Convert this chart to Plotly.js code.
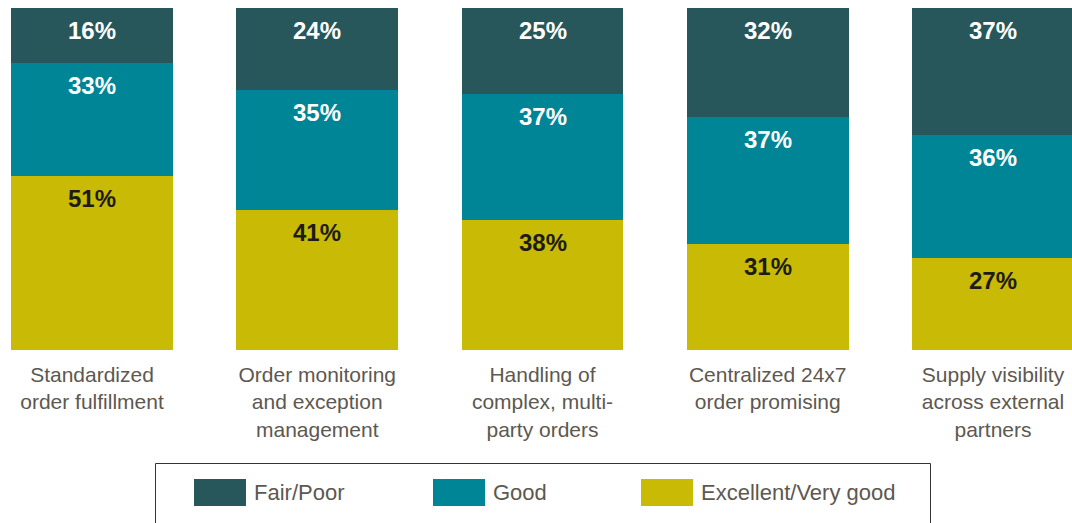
<!DOCTYPE html>
<html>
<head>
<meta charset="utf-8">
<script src="https://cdn.plot.ly/plotly-3.0.1.min.js"></script>
<style>
html,body{margin:0;padding:0;background:#fff;}
#chart{width:1072px;height:523px;}
</style>
</head>
<body>
<div id="chart"></div>
<script>
// ---- data ----
const categories = [
  "Standardized<br>order fulfillment",
  "Order monitoring<br>and exception<br>management",
  "Handling of<br>complex, multi-<br>party orders",
  "Centralized 24x7<br>order promising",
  "Supply visibility<br>across external<br>partners"
];
const excellent = [51, 41, 38, 31, 27];
const good = [33, 35, 37, 37, 36];
const fairPoor = [16, 24, 25, 32, 37];
const seriesNames = ["Fair/Poor", "Good", "Excellent/Very good"];

// ---- style ----
const colFair = "#27575a";
const colGood = "#008597";
const colExc = "#c9ba05";
const FONT = "Liberation Sans, Arial, Helvetica, sans-serif";
const W = 1072, H = 523, MT = 8, MB = 173;
const plotH = H - MT - MB;

const xIdx = categories.map((_, i) => i);

const traces = [
  {type: "bar", name: seriesNames[2], x: xIdx, y: excellent, marker: {color: colExc}, hoverinfo: "none"},
  {type: "bar", name: seriesNames[1], x: xIdx, y: good, marker: {color: colGood}, hoverinfo: "none"},
  {type: "bar", name: seriesNames[0], x: xIdx, y: fairPoor, marker: {color: colFair}, hoverinfo: "none"}
];

// value labels placed near top of each segment
const annotations = [];
const stacks = [
  {vals: excellent, color: "#1c1c12"},
  {vals: good, color: "#ffffff"},
  {vals: fairPoor, color: "#ffffff"}
];
xIdx.forEach(i => {
  let cum = 0;
  stacks.forEach(s => {
    cum += s.vals[i];
    annotations.push({
      x: i, y: cum, xref: "x", yref: "y",
      text: "<b>" + s.vals[i] + "%</b>",
      showarrow: false, yanchor: "middle", xanchor: "center",
      yshift: -22.5,
      font: {family: FONT, size: 24, color: s.color}
    });
  });
});

// manual legend (large swatches) in paper coords
function py(p) { return (H - MB - p) / plotH; }
function px(p) { return p / W; }
const shapes = [
  {type: "rect", xref: "paper", yref: "paper", x0: px(155.5), x1: px(930.5), y0: py(540), y1: py(463.5),
   line: {color: "#333333", width: 1}, fillcolor: "rgba(0,0,0,0)"}
];
const legendItems = [
  {name: seriesNames[0], color: colFair, sx: 194},
  {name: seriesNames[1], color: colGood, sx: 433},
  {name: seriesNames[2], color: colExc, sx: 641}
];
legendItems.forEach(it => {
  shapes.push({type: "rect", xref: "paper", yref: "paper",
    x0: px(it.sx), x1: px(it.sx + 52), y0: py(506), y1: py(479),
    line: {width: 0}, fillcolor: it.color});
  annotations.push({xref: "paper", yref: "paper", x: px(it.sx + 58), y: py(493),
    text: it.name, showarrow: false, xanchor: "left", yanchor: "middle",
    font: {family: FONT, size: 22, color: "#5d5850"}});
});

const layout = {
  width: W, height: H,
  margin: {l: 0, r: 0, t: MT, b: MB, pad: 0},
  paper_bgcolor: "#ffffff", plot_bgcolor: "#ffffff",
  barmode: "stack", bargap: 0.281,
  showlegend: false,
  xaxis: {
    type: "linear",
    range: [-92 / 225.25, (W - 92) / 225.25],
    tickvals: xIdx, ticktext: categories,
    showgrid: false, zeroline: false, showline: false, ticks: "",
    ticklabelstandoff: 10,
    tickfont: {family: FONT, size: 21, color: "#5d5850"},
    fixedrange: true
  },
  yaxis: {
    range: [0, 100], visible: false, showgrid: false, zeroline: false, fixedrange: true
  },
  annotations: annotations,
  shapes: shapes,
  font: {family: FONT}
};

Plotly.newPlot("chart", traces, layout, {displayModeBar: false, staticPlot: true});
</script>
</body>
</html>
